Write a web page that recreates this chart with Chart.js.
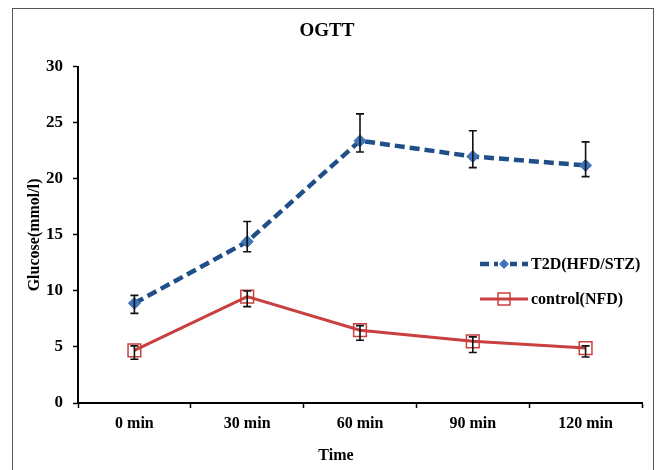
<!DOCTYPE html>
<html><head><meta charset="utf-8">
<script src="https://cdn.jsdelivr.net/npm/chart.js@4.4.1/dist/chart.umd.min.js"></script>
<style>html,body{margin:0;padding:0;background:#fff}#wrap{width:657px;height:470px;position:relative}</style>
</head><body><div id="wrap"><canvas id="c" width="657" height="470"></canvas></div>
<script>
const categories = ['0 min', '30 min', '60 min', '90 min', '120 min'];
const t2dMean = [8.9, 14.4, 23.4, 22.0, 21.2];
const t2dErrUp = [0.7, 1.8, 2.4, 2.3, 2.1];
const t2dErrDown = [0.9, 0.9, 1.0, 1.0, 1.0];
const ctrlMean = [4.7, 9.5, 6.5, 5.5, 4.9];
const ctrlErrUp = [0.4, 0.5, 0.4, 0.4, 0.2];
const ctrlErrDown = [0.8, 0.9, 0.9, 1.0, 0.8];
const yTicks = [0, 5, 10, 15, 20, 25, 30];
const seriesNames = ['T2D(HFD/STZ)', 'control(NFD)'];
const chartTitle = 'OGTT';
const xTitle = 'Time';
const yTitle = 'Glucose(mmol/l)';

const FONT = '"Liberation Serif", "Times New Roman", serif';
const T2D_LINE = '#1f4e89';
const T2D_FILL = '#3f74ba';
const CTRL_LINE = '#c8403f';

const errors = [
  {up: t2dErrUp, down: t2dErrDown},
  {up: ctrlErrUp, down: ctrlErrDown}
];

const decorPlugin = {
  id: 'decor',
  beforeDraw(chart) {
    const ctx = chart.ctx;
    ctx.save();
    ctx.fillStyle = '#fff';
    ctx.fillRect(0, 0, chart.width, chart.height);
    ctx.strokeStyle = '#555';
    ctx.lineWidth = 1;
    ctx.strokeRect(12.5, 8.5, 641, 480);
    ctx.restore();
  },
  afterDatasetsDraw(chart) {
    const ctx = chart.ctx;
    const xs = chart.scales.x, ys = chart.scales.y;
    ctx.save();
    ctx.strokeStyle = '#111';
    ctx.lineWidth = 1.6;
    chart.data.datasets.forEach((ds, i) => {
      ds.data.forEach((v, j) => {
        const x = xs.getPixelForValue(j);
        const yt = ys.getPixelForValue(v + errors[i].up[j]);
        const yb = ys.getPixelForValue(v - errors[i].down[j]);
        ctx.beginPath();
        ctx.moveTo(x, yt); ctx.lineTo(x, yb);
        ctx.moveTo(x - 4, yt); ctx.lineTo(x + 4, yt);
        ctx.moveTo(x - 4, yb); ctx.lineTo(x + 4, yb);
        ctx.stroke();
      });
    });
    ctx.restore();
  },
  afterDraw(chart) {
    const ctx = chart.ctx;
    ctx.save();
    ctx.fillStyle = '#000';
    ctx.font = 'bold 16px ' + FONT;
    ctx.textAlign = 'center';
    ctx.textBaseline = 'middle';
    ctx.fillText(xTitle, 336, 456);
    const rows = [
      {y: 264, color: T2D_LINE, dash: [9, 5], width: 4.5, name: seriesNames[0], marker: 'diamond'},
      {y: 299, color: CTRL_LINE, dash: [], width: 3, name: seriesNames[1], marker: 'square'}
    ];
    rows.forEach(r => {
      ctx.beginPath();
      ctx.setLineDash(r.dash);
      ctx.strokeStyle = r.color;
      ctx.lineWidth = r.width;
      ctx.moveTo(480, r.y); ctx.lineTo(528, r.y);
      ctx.stroke();
      ctx.setLineDash([]);
      ctx.beginPath();
      if (r.marker === 'diamond') {
        ctx.fillStyle = '#fff';
        ctx.fillRect(498, r.y - 7, 12, 14);
        ctx.fillStyle = T2D_FILL;
        ctx.moveTo(504, r.y - 5); ctx.lineTo(509, r.y); ctx.lineTo(504, r.y + 5); ctx.lineTo(499, r.y);
        ctx.closePath(); ctx.fill();
      } else {
        ctx.strokeStyle = CTRL_LINE;
        ctx.lineWidth = 1.5;
        ctx.strokeRect(498, r.y - 6, 12, 12);
      }
      ctx.fillStyle = '#000';
      ctx.font = 'bold 16px ' + FONT;
      ctx.textAlign = 'left';
      ctx.textBaseline = 'middle';
      ctx.fillText(r.name, 531, r.y + 1);
    });
    ctx.restore();
  }
};

new Chart(document.getElementById('c'), {
  type: 'line',
  data: {
    labels: categories,
    datasets: [
      {
        label: seriesNames[0], data: t2dMean,
        borderColor: T2D_LINE, borderWidth: 4.5, borderDash: [10, 5],
        pointStyle: 'rectRot', pointRadius: 6, pointBackgroundColor: T2D_FILL,
        pointBorderColor: T2D_FILL, pointBorderWidth: 1, tension: 0
      },
      {
        label: seriesNames[1], data: ctrlMean,
        borderColor: CTRL_LINE, borderWidth: 3,
        pointStyle: 'rect', pointRadius: 9, pointBackgroundColor: 'rgba(0,0,0,0)',
        pointBorderColor: CTRL_LINE, pointBorderWidth: 1.5, tension: 0
      }
    ]
  },
  options: {
    responsive: false, animation: false, devicePixelRatio: 1,
    layout: {padding: {top: 8, left: 12, right: 15, bottom: 4}},
    plugins: {
      legend: {display: false},
      tooltip: {enabled: false},
      title: {
        display: true, text: chartTitle, color: '#000',
        font: {family: FONT, size: 19, weight: 'bold'},
        padding: {top: 12, bottom: 24}
      }
    },
    scales: {
      x: {
        type: 'category', offset: true,
        grid: {offset: true, drawOnChartArea: false, tickLength: 5, tickColor: '#000', tickWidth: 1.5},
        border: {color: '#000', width: 2},
        ticks: {color: '#000', font: {family: FONT, size: 16, weight: 'bold'}, padding: 6, maxRotation: 0},
        afterFit(s) { s.height = 63; }
      },
      y: {
        min: 0, max: 30,
        afterBuildTicks(s) { s.ticks = yTicks.map(v => ({value: v})); },
        grid: {drawOnChartArea: false, tickLength: 5, tickColor: '#000', tickWidth: 1.5},
        border: {color: '#000', width: 2},
        ticks: {color: '#000', font: {family: FONT, size: 17, weight: 'bold'}, padding: 10},
        title: {display: true, text: yTitle, color: '#000', font: {family: FONT, size: 16, weight: 'bold'}, padding: {top: 13, bottom: 0}},
        afterFit(s) { s.width = 66; }
      }
    }
  },
  plugins: [decorPlugin]
});
</script>
</body></html>
